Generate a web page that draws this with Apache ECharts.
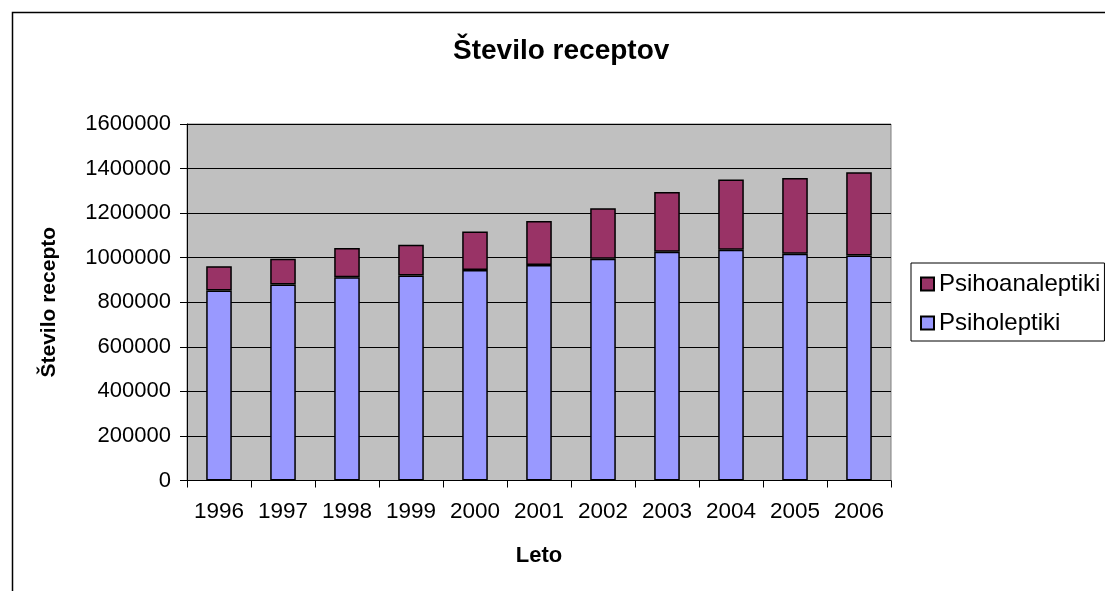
<!DOCTYPE html>
<html>
<head>
<meta charset="utf-8">
<script src="https://cdn.jsdelivr.net/npm/echarts@6/dist/echarts.min.js"></script>
<style>
  html, body { margin: 0; padding: 0; background: #ffffff; }
  #chart { width: 1105px; height: 591px; }
</style>
</head>
<body>
<div id="chart"></div>
<script>
// Years on the category axis
const years = ['1996', '1997', '1998', '1999', '2000', '2001', '2002', '2003', '2004', '2005', '2006'];

// Number of prescriptions per drug group (stacked)
const psiholeptiki = [853000, 880000, 912700, 920300, 944200, 966700, 995500, 1027000, 1036000, 1018000, 1010300];
const psihoanaleptiki = [109000, 115500, 130300, 138200, 172800, 198000, 226300, 268200, 315000, 340200, 373600];

// Value axis ticks
const yMin = 0;
const yMax = 1600000;
const yStep = 200000;

const FONT = '"Liberation Sans", Arial, Helvetica, sans-serif';

const chart = echarts.init(document.getElementById('chart'), null, { renderer: 'canvas' });

chart.setOption({
  animation: false,
  backgroundColor: '#ffffff',
  textStyle: { fontFamily: FONT, color: '#000' },
  graphic: [{
    type: 'rect',
    left: 10,
    top: 10,
    shape: { width: 1120, height: 600 },
    style: { fill: 'none', stroke: '#000', lineWidth: 1.5 },
    silent: true,
    z: -1
  }],
  title: {
    text: 'Število receptov',
    left: 453,
    top: 37,
    padding: 0,
    textStyle: { fontFamily: FONT, fontSize: 28, fontWeight: 'bold', color: '#000' }
  },
  legend: {
    orient: 'vertical',
    left: 911,
    top: 263,
    padding: [9, 4, 6, 9],
    icon: 'rect',
    itemWidth: 13,
    itemHeight: 13,
    itemGap: 15,
    borderColor: '#000',
    borderWidth: 1,
    backgroundColor: '#ffffff',
    data: ['Psihoanaleptiki', 'Psiholeptiki'],
    textStyle: { fontFamily: FONT, fontSize: 24, color: '#000' }
  },
  grid: {
    left: 187,
    right: 214,
    top: 124,
    bottom: 110.5,
    show: true,
    backgroundColor: '#C0C0C0',
    borderColor: '#808080',
    borderWidth: 1
  },
  xAxis: {
    type: 'category',
    data: years,
    boundaryGap: true,
    name: 'Leto',
    nameLocation: 'middle',
    nameGap: 64,
    nameTextStyle: { fontFamily: FONT, fontSize: 22, fontWeight: 'bold', color: '#000' },
    axisLine: { show: true, lineStyle: { color: '#000', width: 1 } },
    axisTick: { show: true, interval: 0, alignWithLabel: false, length: 7, lineStyle: { color: '#000' } },
    axisLabel: { interval: 0, hideOverlap: false, margin: 20, fontFamily: FONT, fontSize: 22.5, color: '#000' },
    splitLine: { show: false }
  },
  yAxis: {
    type: 'value',
    min: yMin,
    max: yMax,
    interval: yStep,
    name: 'Število receptov',
    nameLocation: 'middle',
    nameGap: 127,
    nameTruncate: { maxWidth: 152, ellipsis: '' },
    nameTextStyle: { fontFamily: FONT, fontSize: 21, fontWeight: 'bold', color: '#000' },
    axisLine: { show: true, lineStyle: { color: '#000', width: 1 } },
    axisTick: { show: true, length: 7, lineStyle: { color: '#000' } },
    axisLabel: {
      margin: 16, fontFamily: FONT, fontSize: 22, color: '#000',
      formatter: function (v) { return String(v); }
    },
    splitLine: { show: true, lineStyle: { color: '#000', width: 1 } }
  },
  series: [
    {
      name: 'Psiholeptiki',
      type: 'bar',
      stack: 'recepti',
      data: psiholeptiki,
      barWidth: '40%',
      itemStyle: { color: '#9999FF', borderColor: '#000', borderWidth: 1.5 }
    },
    {
      name: 'Psihoanaleptiki',
      type: 'bar',
      stack: 'recepti',
      data: psihoanaleptiki,
      barWidth: '40%',
      itemStyle: { color: '#993366', borderColor: '#000', borderWidth: 1.5 }
    }
  ]
});
</script>
</body>
</html>
